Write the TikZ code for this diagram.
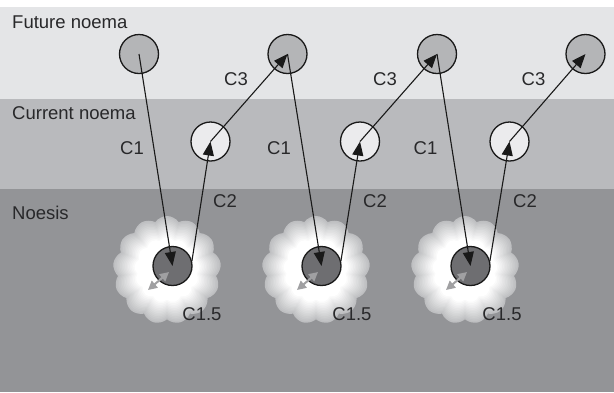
\documentclass[tikz,border=0pt]{standalone}
\usepackage{fontspec}
\setmainfont{Liberation Sans}
\usetikzlibrary{arrows.meta,shapes.symbols,calc}
\definecolor{bandA}{RGB}{228,229,231}
\definecolor{bandB}{RGB}{185,186,189}
\definecolor{bandC}{RGB}{147,148,151}
\definecolor{futfill}{RGB}{180,181,183}
\definecolor{curfill}{RGB}{235,235,237}
\definecolor{noefill}{RGB}{110,110,113}
\definecolor{txt}{RGB}{40,40,42}
\definecolor{glowedge}{RGB}{190,191,193}
\definecolor{grayarrow}{RGB}{160,160,162}
\tikzset{
  lbl/.style={font=\fontsize{18.5}{21}\selectfont, text=txt, inner sep=0pt},
  dot/.style={circle, draw=black!90, line width=1.3pt, minimum size=39pt, inner sep=0pt},
  fut/.style={dot, fill=futfill},
  cur/.style={dot, fill=curfill},
  noe/.style={dot, fill=noefill},
  glowcloud/.style={cloud, cloud puffs=13, cloud puff arc=110, aspect=1, inner sep=0pt, draw=none},
  arr/.style={line width=1.1pt, black!90, -{Triangle[length=14pt,width=11pt]}},
  garr/.style={line width=2pt, grayarrow, {Triangle[length=9pt,width=9pt]}-{Triangle[length=9pt,width=9pt]}}
}
\begin{document}
\begin{tikzpicture}[x=1pt,y=-1pt]
\useasboundingbox (0,0) rectangle (614,392);
\fill[white] (0,0) rectangle (614,392);
\fill[bandA] (0,7) rectangle (614,99);
\fill[bandB] (0,99) rectangle (614,189);
\fill[bandC] (0,189) rectangle (614,392);
\node[lbl, anchor=base west] (tfut) at (12,28) {Future noema};
\node[lbl, anchor=base west] (tcur) at (12,119) {Current noema};
\node[lbl, anchor=base west] (tnoe) at (12,219) {Noesis};
% glow clouds (stepped gradient)
\foreach \cx [count=\g] in {167,316,465}{
  \foreach \k in {0,...,16}{
    \pgfmathsetmacro{\sz}{108-3.3*\k}
    \pgfmathsetmacro{\pct}{min(100,100*\k/13)}
    \node[glowcloud, minimum width=\sz pt, minimum height=\sz pt, fill=white!\pct!glowedge] (g\g-\k) at (\cx,270) {};
  }
}
% circles
\node[fut] (f1) at (139,54) {};
\node[fut] (f2) at (287.5,54) {};
\node[fut] (f3) at (437,54) {};
\node[fut] (f4) at (585.5,54) {};
\node[cur] (c1) at (210.5,141.5) {};
\node[cur] (c2) at (360,141.5) {};
\node[cur] (c3) at (509.5,141.5) {};
\node[noe] (n1) at (172.5,266) {};
\node[noe] (n2) at (321.5,266) {};
\node[noe] (n3) at (470.5,266) {};
% gray double arrows
\foreach \i in {1,2,3}{
  \coordinate (ga\i) at ($(n\i.center)+(-24.5,24)$);
  \coordinate (gb\i) at ($(n\i.center)+(-3.5,6)$);
  \draw[garr] (ga\i) -- (gb\i);
}
% arrows
\foreach \i/\j in {1/2,2/3,3/4}{
  \draw[arr] (f\i.center) -- (n\i.center);
  \draw[arr] (n\i.15) -- (c\i.center);
  \draw[arr] (c\i.center) -- (f\j.center);
}
% labels
\node[lbl, anchor=base] (l11) at (132,154) {C1};
\node[lbl, anchor=base] (l12) at (279,154) {C1};
\node[lbl, anchor=base] (l13) at (425.5,154) {C1};
\node[lbl, anchor=base] (l31) at (236,85) {C3};
\node[lbl, anchor=base] (l32) at (385,85) {C3};
\node[lbl, anchor=base] (l33) at (533.5,85) {C3};
\node[lbl, anchor=base] (l21) at (225,207) {C2};
\node[lbl, anchor=base] (l22) at (375,207) {C2};
\node[lbl, anchor=base] (l23) at (525,207) {C2};
\node[lbl, anchor=base] (l51) at (202,320) {C1.5};
\node[lbl, anchor=base] (l52) at (352,320) {C1.5};
\node[lbl, anchor=base] (l53) at (502,320) {C1.5};
\end{tikzpicture}
\end{document}
